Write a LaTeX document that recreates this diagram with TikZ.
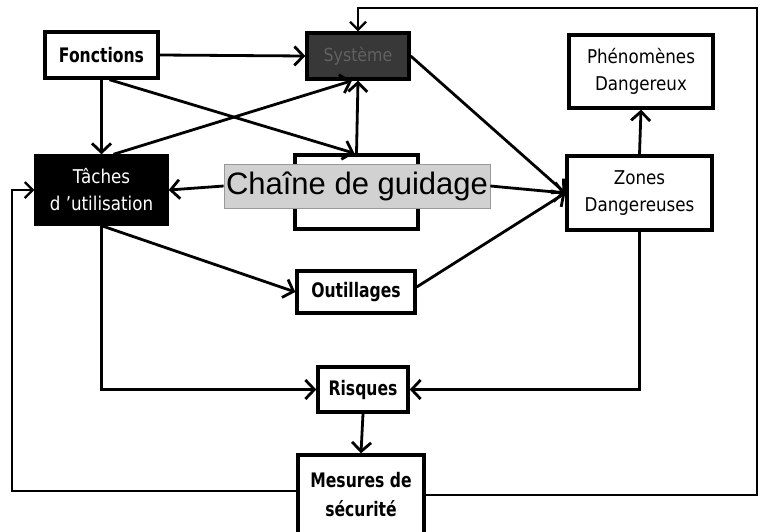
\documentclass[tikz,border=0pt]{standalone}
\usepackage{fontspec}
\setmainfont{DejaVu Sans}
\newfontfamily\condbold[FakeStretch=0.78]{DejaVu Sans}
\newfontfamily\narrowfont[FakeStretch=0.88]{DejaVu Sans}
\newfontfamily\arialfont{Liberation Sans}
\usetikzlibrary{arrows.meta}
\tikzset{
  box/.style={draw, line width=3.4pt, inner sep=0pt, align=center, fill=white},
  boldlbl/.style={font=\condbold\bfseries\fontsize{20}{29}\selectfont},
  plainlbl/.style={font=\narrowfont\fontsize{19}{27}\selectfont},
  link/.style={line width=2.8pt, -{Straight Barb[length=9pt,width=19pt,line width=2.8pt]}},
  loop/.style={line width=1.8pt, -{Straight Barb[length=8pt,width=16pt,line width=2.2pt]}},
}
\begin{document}
\begin{tikzpicture}[x=1pt,y=-1pt]
  \useasboundingbox (0,0) rectangle (760,531);

  % upper row
  \node[box, boldlbl, minimum width=113pt, minimum height=46pt] (fon) at (101.5,55) {Fonctions};
  \node[box, fill=black!78, minimum width=102pt, minimum height=46pt,
        font=\narrowfont\fontsize{18}{20}\selectfont, text=black!62] (sys) at (358,56) {Système};
  \node[box, plainlbl, minimum width=144pt, minimum height=73pt] (pho) at (641,71.5) {Phénomènes\\Dangereux};

  % middle row
  \node[box, fill=black, text=white, plainlbl, minimum width=131pt, minimum height=68pt] (tac) at (101.5,190) {Tâches\\d ’utilisation};
  \node[box, minimum width=123pt, minimum height=74pt] (chb) at (356.5,192) {};
  \node[draw=black!40, line width=0.8pt, fill=black!18, inner sep=0pt, minimum width=266pt, minimum height=44pt,
        font=\arialfont\fontsize{31}{34}\selectfont] (cha) at (357,186) {Chaîne de guidage};
  \node[box, plainlbl, minimum width=145pt, minimum height=74pt] (zon) at (639.5,193) {Zones\\Dangereuses};

  % lower column
  \node[box, boldlbl, minimum width=118pt, minimum height=42pt] (out) at (356,292) {Outillages};
  \node[box, boldlbl, minimum width=90pt, minimum height=45pt] (ris) at (363,389.5) {Risques};
  \node[box, boldlbl, minimum width=126pt, minimum height=80pt] (mes) at (361,495) {Mesures de\\sécurité};

  % feedback loop corners
  \coordinate (fl) at (12,491);
  \coordinate (fr) at (757,8);

  % connectors
  \draw[link] (fon.east) -- (sys.west);
  \draw[link] (fon.south) -- (tac.north);
  \draw[link] ([xshift=8pt]fon.south) -- ([xshift=-2pt]chb.north);
  \draw[link] ([xshift=12pt]tac.north) -- ([xshift=-6pt]sys.south);
  \draw[link] (chb.north) -- (sys.south);
  \draw[link] (sys.east) -- (zon.west);
  \draw[link] (cha.east) -- (zon.west);
  \draw[link] ([yshift=5pt]out.east) -- (zon.west);
  \draw[link] (cha.west) -- (tac.east);
  \draw[link] (tac.south) -- (out.west);
  \draw[link] (tac.south) |- (ris.west);
  \draw[link] (zon.south) |- (ris.east);
  \draw[link] (zon.north) -- (pho.south);
  \draw[link] (ris.south) -- (mes.north);
  \draw[loop] (mes.west |- fl) -- (fl) |- (tac.west);
  \draw[loop] (mes.east) -| (fr) -| (sys.north);
\end{tikzpicture}
\end{document}
